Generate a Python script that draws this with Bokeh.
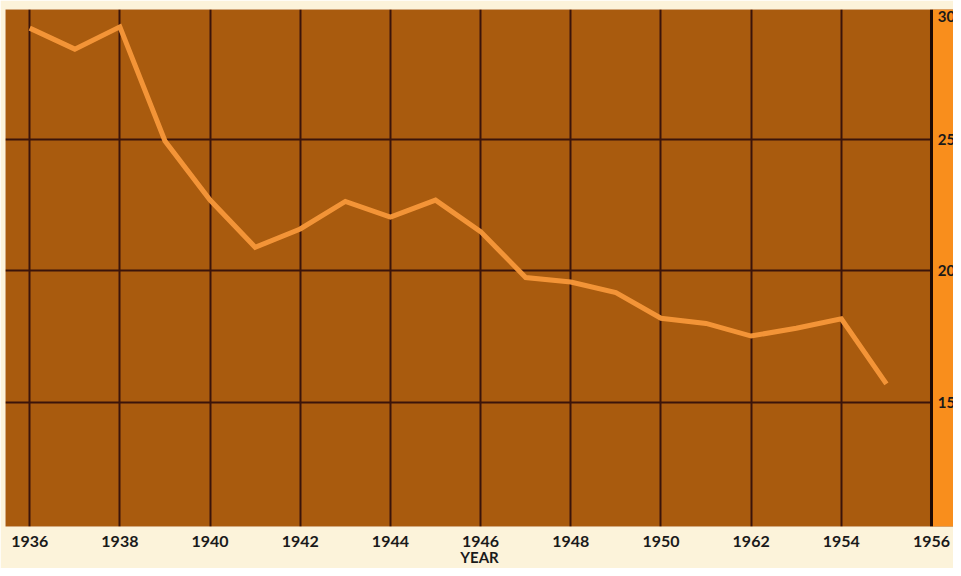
from bokeh.plotting import figure
from bokeh.models import Span, FixedTicker
from bokeh.embed import file_html
from bokeh.resources import INLINE
from bokeh.core.properties import value

# ---- data ----
years = [1936, 1937, 1938, 1939, 1940, 1941, 1942, 1943, 1944, 1945,
         1946, 1947, 1948, 1949, 1950, 1951, 1952, 1953, 1954, 1955]
values = [29.25, 28.45, 29.3, 24.95, 22.7, 20.9, 21.6, 22.65, 22.05, 22.7,
          21.5, 19.75, 19.58, 19.18, 18.2, 18.0, 17.52, 17.82, 18.18, 15.7]

x_ticks = [1936, 1938, 1940, 1942, 1944, 1946, 1948, 1950, 1952, 1954, 1956]
x_tick_labels = ["1936", "1938", "1940", "1942", "1944", "1946",
                 "1948", "1950", "1962", "1954", "1956"]
y_ticks = [30, 25, 20, 15]
y_tick_labels = ["30", "25", "20", "15"]
x_label = "YEAR"

# ---- layout ----
X_START, X_END = 1935.463, 1956.488
Y_START, Y_END = 10.265, 29.96
LAST_YEAR = x_ticks[-1]

BROWN = "#A95B0E"
ORANGE = "#F98E1C"
CREAM = "#FCF3DA"
LINE = "#F7983A"
GRID = "#3A140A"
FONT = "Lato"

p = figure(width=953, height=568, x_range=(X_START, X_END), y_range=(Y_START, Y_END),
           output_backend="svg", toolbar_location=None, y_axis_location=None,
           min_border_left=5, min_border_right=0, min_border_top=9, min_border_bottom=0)
p.background_fill_color = BROWN
p.border_fill_color = CREAM
p.outline_line_color = None

p.xgrid.ticker = FixedTicker(ticks=x_ticks[:-1])
p.ygrid.ticker = FixedTicker(ticks=y_ticks[1:])
p.xgrid.grid_line_color = GRID
p.ygrid.grid_line_color = GRID
p.xgrid.grid_line_width = 2
p.ygrid.grid_line_width = 2

# right orange strip beyond the last year
p.quad(left=[LAST_YEAR], right=[X_END], bottom=[Y_START], top=[Y_END],
       fill_color=ORANGE, line_color=None)
p.add_layout(Span(location=LAST_YEAR, dimension="height", line_color="#1E0A05", line_width=3))

# data line
p.line(years, values, line_color=LINE, line_width=5, line_alpha=0.95, line_join="miter")

# right-side value labels
lab_x = LAST_YEAR + 0.14
top_idx = [i for i, v in enumerate(y_ticks) if v >= Y_END]
mid_idx = [i for i, v in enumerate(y_ticks) if v < Y_END]
p.text(x=[lab_x] * len(top_idx), y=[Y_END] * len(top_idx),
       text=[y_tick_labels[i] for i in top_idx], text_baseline="top", text_align="left",
       text_font=value(FONT), text_font_style="bold", text_font_size="15px",
       text_color="#1a1a1a", y_offset=1)
p.text(x=[lab_x] * len(mid_idx), y=[y_ticks[i] for i in mid_idx],
       text=[y_tick_labels[i] for i in mid_idx], text_baseline="middle", text_align="left",
       text_font=value(FONT), text_font_style="bold", text_font_size="15px",
       text_color="#1a1a1a")

ax = p.xaxis[0]
ax.ticker = FixedTicker(ticks=x_ticks)
ax.major_label_overrides = {t: l for t, l in zip(x_ticks, x_tick_labels)}
ax.axis_line_color = None
ax.major_tick_line_color = None
ax.minor_tick_line_color = None
ax.major_label_text_font = FONT
ax.major_label_text_font_style = "bold"
ax.major_label_text_font_size = "16px"
ax.major_label_text_color = "#1a1a1a"
ax.major_label_standoff = 3
ax.axis_label = x_label
ax.axis_label_text_font = FONT
ax.axis_label_text_font_style = "bold"
ax.axis_label_text_font_size = "15px"
ax.axis_label_text_color = "#1a1a1a"
ax.axis_label_text_line_height = 0.9
ax.axis_label_standoff = -2

open("out.html", "w").write(file_html(p, INLINE))
